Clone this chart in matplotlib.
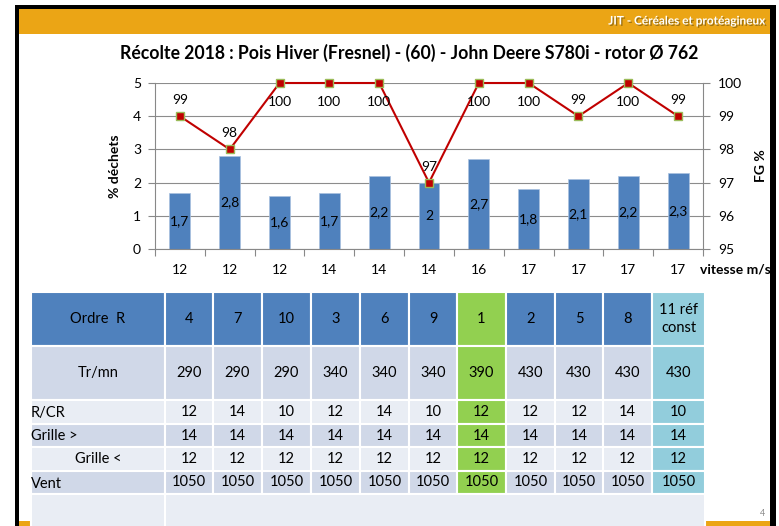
import numpy as np
import matplotlib.pyplot as plt
import matplotlib.patheffects as pe
from matplotlib.patches import Rectangle

plt.rcParams['font.family'] = ['Lato', 'DejaVu Sans']

W, H = 779, 526

# --- donnees du graphique ---
vitesse = [12, 12, 12, 14, 14, 14, 16, 17, 17, 17, 17]
dechets = [1.7, 2.8, 1.6, 1.7, 2.2, 2.0, 2.7, 1.8, 2.1, 2.2, 2.3]
fg = [99, 98, 100, 100, 100, 97, 100, 100, 99, 100, 99]

# --- donnees du tableau ---
ordre = ['4', '7', '10', '3', '6', '9', '1', '2', '5', '8', '11 réf\nconst']
tr_mn = [290, 290, 290, 340, 340, 340, 390, 430, 430, 430, 430]
r_cr = [12, 14, 10, 12, 14, 10, 12, 12, 12, 14, 10]
grille_sup = [14, 14, 14, 14, 14, 14, 14, 14, 14, 14, 14]
grille_inf = [12, 12, 12, 12, 12, 12, 12, 12, 12, 12, 12]
vent = [1050, 1050, 1050, 1050, 1050, 1050, 1050, 1050, 1050, 1050, 1050]
row_labels = ['Ordre  R', 'Tr/mn', 'R/CR', 'Grille >', 'Grille <', 'Vent']
table_rows = [ordre, tr_mn, r_cr, grille_sup, grille_inf, vent]

# mise en page du tableau (pixels de la diapo)
col_edges = [31, 165, 213, 262, 311, 360, 409, 457, 506, 555, 603, 652, 705]
row_edges = [292, 346, 400, 424, 447, 471, 494, 530]
label_ha = ['center', 'center', 'left', 'left', 'center', 'left']
row_colors = ['#4F81BD', '#D0D8E8', '#E9EDF4', '#D0D8E8', '#E9EDF4', '#D0D8E8']
green_col, blue_col = 6, 10

fig = plt.figure(figsize=(W / 100, H / 100), dpi=100)
fig.patch.set_facecolor('white')

# fond de diapo en coordonnees pixels
bg = fig.add_axes([0, 0, 1, 1])
bg.set_xlim(0, W)
bg.set_ylim(H, 0)
bg.axis('off')


def box(x0, y0, x1, y1, color, z=1, edge='none', lw=0):
    bg.add_patch(Rectangle((x0, y0), x1 - x0, y1 - y0, facecolor=color,
                           edgecolor=edge, linewidth=lw, zorder=z))


orange = '#EBA515'
box(19, 9, 770, 34, orange)
box(19, 521, 30, H, orange)
box(706, 521, 770, H, orange)
box(15, 5, 776, 9, 'black', z=5)
box(15, 5, 19, H, 'black', z=5)
box(770, 5, 776, H, 'black', z=5)

bg.text(765, 21, 'JIT - Céréales et protéagineux', ha='right', va='center',
        color='white', weight='bold', fontsize=8.5,
        path_effects=[pe.withSimplePatchShadow(offset=(1, -1), shadow_rgbFace='#6b5010', alpha=0.6)])
bg.text(409, 53, 'Récolte 2018 : Pois Hiver (Fresnel) - (60) - John Deere S780i - rotor Ø 762',
        ha='center', va='center', weight='bold', fontsize=12.7, color='black')
bg.text(700, 270, 'vitesse m/s', ha='left', va='center', weight='bold', fontsize=10, zorder=3)
bg.text(763, 514, '4', ha='center', va='center', fontsize=6.5, color='#8c8c8c')

# tableau
for r, vals in enumerate(table_rows):
    y0, y1 = row_edges[r], row_edges[r + 1]
    box(col_edges[0], y0, col_edges[1], y1, row_colors[r], edge='white', lw=1.5)
    if label_ha[r] == 'left':
        bg.text(col_edges[0], (y0 + y1) / 2 + 1, row_labels[r], ha='left', va='center', fontsize=10.5)
    else:
        bg.text((col_edges[0] + col_edges[1]) / 2, (y0 + y1) / 2, row_labels[r],
                ha='center', va='center', fontsize=10.5)
    for c, v in enumerate(vals):
        color = row_colors[r]
        if c == green_col:
            color = '#92D050'
        elif c == blue_col:
            color = '#92CDDC'
        x0, x1 = col_edges[c + 1], col_edges[c + 2]
        box(x0, y0, x1, y1, color, edge='white', lw=1.5)
        bg.text((x0 + x1) / 2, (y0 + y1) / 2, str(v), ha='center', va='center',
                fontsize=10.5, linespacing=1.3)
# derniere ligne vide
box(col_edges[0], row_edges[-2], col_edges[1], row_edges[-1], '#E9EDF4', edge='white', lw=1.5)
box(col_edges[1], row_edges[-2], col_edges[-1], row_edges[-1], '#E9EDF4', edge='white', lw=1.5)

# graphique
grey = '#888888'
ax = fig.add_axes([155 / W, 1 - 249 / H, 548 / W, 166 / H])
ax.set_facecolor('none')
x = np.arange(len(vitesse))
ax.bar(x, dechets, width=0.42, color='#4F81BD', edgecolor='#A9C1DF', linewidth=0.5, zorder=2)
for xi, v in zip(x, dechets):
    ax.text(xi, v / 2, f'{v:g}'.replace('.', ','), ha='center', va='center', fontsize=10, zorder=3)
ax.set_xlim(-0.5, len(vitesse) - 0.5)
ax.set_ylim(0, 5)
ax.set_yticks(range(6))
ax.set_xticks(np.arange(-0.5, len(vitesse), 1))
ax.set_xticklabels([])
ax.set_xticks(x, minor=True)
ax.set_xticklabels([str(v) for v in vitesse], minor=True)
ax.tick_params(axis='x', which='major', length=5, color=grey)
ax.tick_params(axis='x', which='minor', length=0, pad=11, labelsize=10)
ax.tick_params(axis='y', length=5, color=grey, pad=5, labelsize=10)
ax.grid(axis='y', color='#8c8c8c', lw=0.8)
ax.set_axisbelow(True)
ax.spines['top'].set_visible(False)
ax.spines['right'].set_visible(False)
ax.spines['left'].set_color(grey)
ax.spines['bottom'].set_color(grey)
ax.set_ylabel('% déchets', weight='bold', fontsize=10)
ax.yaxis.set_label_coords(-0.062, 0.5)

ax2 = ax.twinx()
ax2.set_facecolor('none')
ax2.set_ylim(95, 100)
ax2.set_yticks(range(95, 101))
ax2.plot(x, fg, color='#C00000', lw=1.5, marker='s', ms=5.5, mfc='#C00000',
         mec='#9BBB59', mew=1, clip_on=False, zorder=3)
for xi, v in zip(x, fg):
    off = -19 if v == 100 else 16
    ax2.annotate(str(v), (xi, v), xytext=(0, off), textcoords='offset pixels',
                 ha='center', va='center', fontsize=10)
ax2.tick_params(axis='y', length=5, color=grey, pad=6, labelsize=10)
for s in ['top', 'left', 'bottom']:
    ax2.spines[s].set_visible(False)
ax2.spines['right'].set_color(grey)
ax2.set_ylabel('FG %', weight='bold', fontsize=10)
ax2.yaxis.set_label_coords(1.095, 0.5)

fig.savefig('out.png', dpi=100)
